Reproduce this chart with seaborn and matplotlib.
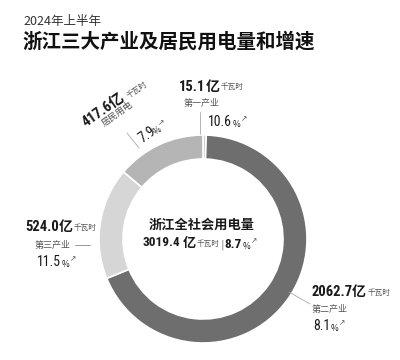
import matplotlib
matplotlib.use("Agg")
import matplotlib.pyplot as plt
import seaborn as sns
from matplotlib import font_manager

sns.set_theme(style="white")
plt.rcParams['font.family'] = ['Noto Sans CJK SC', 'DejaVu Sans']

# ---- data ----
categories = ['第一产业', '第二产业', '第三产业', '居民用电']
values = [15.1, 2062.7, 524.0, 417.6]
growth = [10.6, 8.1, 11.5, 7.9]
total_value = 3019.4
total_growth = 8.7
subtitle = '2024年上半年'
title = '浙江三大产业及居民用电量和增速'
center_title = '浙江全社会用电量'
unit = '千瓦时'

colors = ['#d0d0d0', '#6e6e6e', '#d6d6d6', '#b5b5b5']

names = {f.name for f in font_manager.fontManager.ttflist}
NARROW = ['Roboto Condensed'] if 'Roboto Condensed' in names else ['Roboto']
NUMF = NARROW + ['Noto Sans CJK SC', 'DejaVu Sans']

fig = plt.figure(figsize=(4, 3.6), dpi=100)
fig.patch.set_facecolor('white')
ax = fig.add_axes([0, 0, 1, 1])

H = 360
def Y(y):
    return H - y

cx, cy, R = 203, Y(239), 104
ax.pie(values, colors=colors, startangle=90, counterclock=False,
       center=(cx, cy), radius=R,
       wedgeprops=dict(width=24, edgecolor='white', linewidth=1.2))
ax.set_xlim(0, 400)
ax.set_ylim(0, 360)
ax.set_aspect('equal')
ax.axis('off')

dark = '#1a1a1a'
grey = '#555555'


def chain(x, y, parts):
    """parts: list of (text, kwargs, dx_pts, dy_pts)."""
    prev = None
    for s, kw, dx, dy in parts:
        if prev is None:
            t = ax.text(x, Y(y), s, ha='left', va='center', **kw)
        else:
            t = ax.annotate(s, xy=(1, 0.5), xycoords=prev, xytext=(dx, dy),
                            textcoords='offset points', ha='left', va='center', **kw)
        prev = t


BIG = dict(fontsize=10.5, fontweight='bold', color=dark, family=NUMF)
YI = dict(fontsize=10, fontweight='bold', color=dark, family=['Noto Sans CJK SC'])
UNIT = dict(fontsize=5.5, color=grey)
PCTN = dict(fontsize=10, color=dark, family=NUMF)
PCT = dict(fontsize=6, color=dark)
ARR = dict(fontsize=5.5, color=grey, family=['DejaVu Sans'])
CAT = dict(fontsize=6.5, color=grey)

# titles
ax.text(23, Y(21), subtitle, fontsize=9, color='#333333', va='center', ha='left')
ax.text(22, Y(42), title, fontsize=14, fontweight='bold', color='#111111',
        va='center', ha='left')

# center text
ax.text(202, Y(225), center_title, fontsize=9.5, fontweight='bold', color=dark,
        ha='center', va='center')
CB = dict(fontsize=9.5, fontweight='bold', color=dark, family=NUMF)
chain(143, 243, [
    (f'{total_value}', CB, 0, 0),
    ('亿', dict(fontsize=9.5, fontweight='bold', color=dark), 1.5, 0),
    (unit, UNIT, 0.5, -1),
    ('|', dict(fontsize=8, color='#888888', family=['DejaVu Sans']), 0.5, 0),
    (f'{total_growth}', CB, 0.5, 0),
    ('%', PCT, 0.3, -1.5),
    ('↗', ARR, 0.3, 4),
])

# 第一产业
chain(179, 87, [(f'{values[0]}', BIG, 0, 0), ('亿', YI, 0, 0), (unit, UNIT, 1, 0)])
ax.text(202, Y(103), categories[0], fontsize=6.5, color=grey, ha='center', va='center')
ax.plot([200, 200], [Y(112), Y(134)], color='#aaaaaa', lw=0.6)
chain(208, 122, [(f'{growth[0]}', PCTN, 0, 0), ('%', PCT, 0.5, -1.5), ('↗', ARR, 0.5, 4)])

# 第二产业
chain(311, 292, [(f'{values[1]}', BIG, 0, 0), ('亿', YI, 0, 0), (unit, UNIT, 1, -1)])
ax.text(312, Y(309), categories[1], **CAT, ha='left', va='center')
chain(313, 326, [(f'{growth[1]}', PCTN, 0, 0), ('%', PCT, 0.5, -1.5), ('↗', ARR, 0.5, 4)])
ax.plot([289, 310], [Y(292), Y(304)], color='#aaaaaa', lw=0.6)

# 第三产业
chain(25, 227, [(f'{values[2]}', BIG, 0, 0), ('亿', YI, 0, 0), (unit, UNIT, 1, -1)])
ax.text(35, Y(245), categories[2], **CAT, ha='left', va='center')
ax.plot([75, 90], [Y(245), Y(245)], color='#888888', lw=0.6)
chain(37, 262, [(f'{growth[2]}', PCTN, 0, 0), ('%', PCT, 0.5, -1.5), ('↗', ARR, 0.5, 4)])

# 居民用电 (rotated)
rot = 35
ax.text(84, Y(124), f'{values[3]}亿', fontsize=10.5, fontweight='bold', color=dark,
        family=NUMF, ha='left', va='center', rotation=rot, rotation_mode='anchor')
ax.text(128, Y(97), unit, fontsize=5.5, color=grey, ha='left', va='center',
        rotation=rot, rotation_mode='anchor')
ax.text(103, Y(124), categories[3], fontsize=6.5, color=grey, ha='left', va='center',
        rotation=rot, rotation_mode='anchor')
ax.text(140, Y(140), f'{growth[3]}', fontsize=10, color=dark, family=NUMF,
        ha='left', va='center', rotation=rot, rotation_mode='anchor')
ax.text(154, Y(133), '%', fontsize=6, color=dark, ha='left', va='center',
        rotation=rot, rotation_mode='anchor')
ax.text(161, Y(123), '↗', fontsize=5.5, color=grey, family=['DejaVu Sans'],
        ha='center', va='center')
ax.plot([127, 139], [Y(133), Y(148)], color='#aaaaaa', lw=0.6)

fig.savefig('out.png', dpi=100, facecolor='white')
